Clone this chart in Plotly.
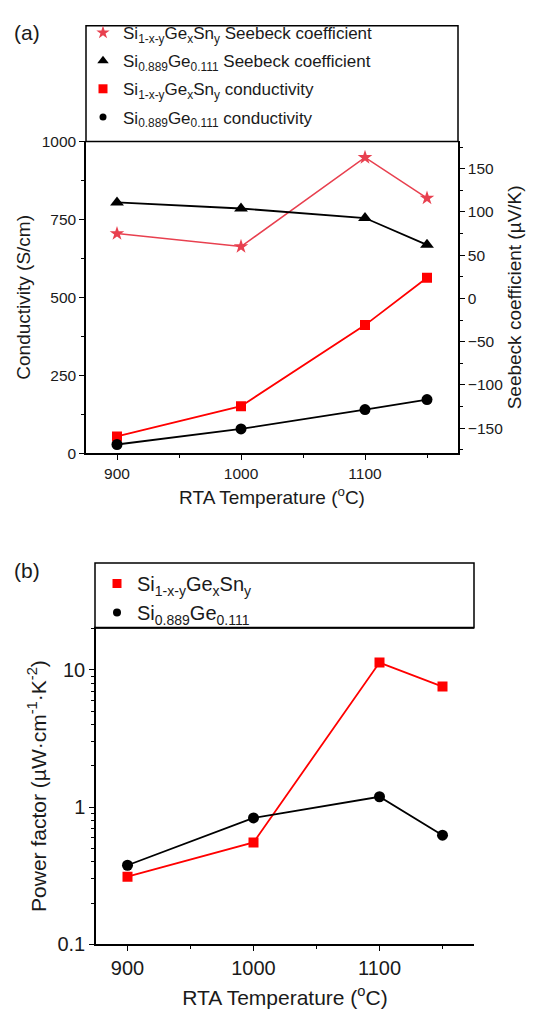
import plotly.graph_objects as go

# ---------------- data ----------------
temps = [900, 1000, 1100, 1150]
seebeck_sigesn = [75, 60, 163, 116]        # µV/K
seebeck_sige = [111, 104, 93, 62]          # µV/K
cond_sigesn = [54, 151, 411, 563]          # S/cm
cond_sige = [28, 78, 140, 172]             # S/cm
pf_sigesn = [0.311, 0.553, 11.3, 7.56]     # µW cm^-1 K^-2
pf_sige = [0.377, 0.834, 1.19, 0.624]

x_ticks = [900, 1000, 1100]
cond_ticks = [0, 250, 500, 750, 1000]
seebeck_ticks = [-150, -100, -50, 0, 50, 100, 150]
pf_ticks = [0.1, 1, 10]
pf_minor = [0.2, 0.3, 0.4, 0.5, 0.6, 0.7, 0.8, 0.9, 2, 3, 4, 5, 6, 7, 8, 9, 20]

name_sigesn = "Si<sub>1-x-y</sub>Ge<sub>x</sub>Sn<sub>y</sub>"
name_sige = "Si<sub>0.889</sub>Ge<sub>0.111</sub>"

RED = "#ff0000"
STAR = "#e8404f"
BLACK = "#000000"
TXT = "#1a1a1a"
FONT = "Liberation Sans, Arial, sans-serif"

# page body has an 8px margin: shrink the figure and shift coordinates
OFF = 8
W, H = 553 - OFF, 1023 - OFF

def px(v):
    return (v - OFF) / W

def py(v):
    return 1 - (v - OFF) / H

fig = go.Figure()

# ---- panel (a) ----
fig.add_trace(go.Scatter(x=temps, y=seebeck_sigesn, mode="lines+markers", xaxis="x", yaxis="y3",
                         line=dict(color=STAR, width=1.5),
                         marker=dict(symbol="star", size=11, color=STAR), showlegend=False))
fig.add_trace(go.Scatter(x=temps, y=seebeck_sige, mode="lines+markers", xaxis="x", yaxis="y3",
                         line=dict(color=BLACK, width=1.8),
                         marker=dict(symbol="triangle-up", size=12, color=BLACK), showlegend=False))
fig.add_trace(go.Scatter(x=temps, y=cond_sigesn, mode="lines+markers", xaxis="x", yaxis="y",
                         line=dict(color=RED, width=1.8),
                         marker=dict(symbol="square", size=10, color=RED), showlegend=False))
fig.add_trace(go.Scatter(x=temps, y=cond_sige, mode="lines+markers", xaxis="x", yaxis="y",
                         line=dict(color=BLACK, width=1.8),
                         marker=dict(symbol="circle", size=11, color=BLACK), showlegend=False))

# legend-only entries (marker only) for panel (a)
leg_a = [
    (name_sigesn + " Seebeck coefficient", "star", STAR, 10),
    (name_sige + " Seebeck coefficient", "triangle-up", BLACK, 10),
    (name_sigesn + " conductivity", "square", RED, 9),
    (name_sige + " conductivity", "circle", BLACK, 7),
]
for i, (nm, sym, col, sz) in enumerate(leg_a):
    fig.add_trace(go.Scatter(x=[None], y=[None], mode="markers", name=nm, xaxis="x", yaxis="y",
                             legendgroup=f"a{i}",
                             marker=dict(symbol=sym, color=col, size=sz), legend="legend"))

# ---- panel (b) ----
fig.add_trace(go.Scatter(x=temps, y=pf_sigesn, mode="lines+markers", xaxis="x2", yaxis="y2",
                         line=dict(color=RED, width=1.8),
                         marker=dict(symbol="square", size=10, color=RED), showlegend=False))
fig.add_trace(go.Scatter(x=temps, y=pf_sige, mode="lines+markers", xaxis="x2", yaxis="y2",
                         line=dict(color=BLACK, width=1.8),
                         marker=dict(symbol="circle", size=11, color=BLACK), showlegend=False))
for nm, sym, col, sz in [(name_sigesn, "square", RED, 9), (name_sige, "circle", BLACK, 8)]:
    fig.add_trace(go.Scatter(x=[None], y=[None], mode="markers", name=nm, xaxis="x2", yaxis="y2",
                             marker=dict(symbol=sym, color=col, size=sz), legend="legend2"))

def axis_style(tick_size, title_size):
    return dict(showline=True, linecolor="black", linewidth=1.5, ticks="outside",
                ticklen=5, tickwidth=1.2, tickcolor="black", showgrid=False, zeroline=False,
                tickfont=dict(family=FONT, size=tick_size, color=TXT),
                title_font=dict(family=FONT, size=title_size, color=TXT))

ax_a = axis_style(15.5, 19)
ax_b = axis_style(20, 21)

minor_lin = dict(ticks="outside", ticklen=3, tickwidth=1, tickcolor="black")

a_top, a_bot = 135, 453
b_top, b_bot = 631, 954

fig.update_layout(
    width=W, height=H, margin=dict(l=0, r=0, t=0, b=0),
    paper_bgcolor="white", plot_bgcolor="white",
    font=dict(family=FONT, color=TXT),
    xaxis=dict(domain=[px(86), px(458)], anchor="y", range=[875, 1175], tickvals=x_ticks,
               title=dict(text="RTA Temperature (<sup>o</sup>C)", standoff=10),
               minor=dict(dtick=50, tick0=900, **minor_lin), **ax_a),
    yaxis=dict(domain=[py(a_bot), py(a_top)], anchor="x", range=[0, 1000], tickvals=cond_ticks,
               title=dict(text="Conductivity (S/cm)", standoff=6),
               minor=dict(dtick=125, tick0=0, **minor_lin), **ax_a),
    yaxis3=dict(overlaying="y", side="right", anchor="x", range=[-179, 181.5], tickvals=seebeck_ticks,
                title=dict(text="Seebeck coefficient (µV/K)", standoff=6),
                minor=dict(dtick=25, tick0=0, **minor_lin), **ax_a),
    xaxis2=dict(domain=[px(96), px(474)], anchor="y2", range=[875, 1175], tickvals=x_ticks,
                title=dict(text="RTA Temperature (<sup>o</sup>C)", standoff=12),
                minor=dict(dtick=50, tick0=900, **minor_lin), **ax_b),
    yaxis2=dict(domain=[py(b_bot), py(b_top)], anchor="x2", type="log", range=[-1, 1.307],
                tickvals=pf_ticks, ticktext=["0.1", "1", "10"],
                title=dict(text="Power factor (µW·cm<sup>-1</sup>·K<sup>-2</sup>)", standoff=5),
                minor=dict(tickvals=pf_minor, **minor_lin),
                **ax_b),
    legend=dict(x=px(83), y=py(6), xanchor="left", yanchor="top", bgcolor="rgba(0,0,0,0)",
                font=dict(family=FONT, size=17, color=TXT), tracegroupgap=3, itemwidth=30),
    legend2=dict(x=px(97), y=py(566), xanchor="left", yanchor="top", bgcolor="rgba(0,0,0,0)",
                 font=dict(family=FONT, size=20, color=TXT), tracegroupgap=0, itemwidth=30),
)

# frame lines: legend boxes and top edges of plots
fig.add_shape(type="rect", xref="paper", yref="paper", x0=px(86), x1=px(458), y0=py(a_top), y1=py(17),
              line=dict(color="black", width=1.5))
fig.add_shape(type="rect", xref="paper", yref="paper", x0=px(95), x1=px(474), y0=py(b_top), y1=py(565),
              line=dict(color="black", width=1.5))
fig.add_shape(type="line", xref="paper", yref="paper", x0=px(94), x1=px(474), y0=py(b_top), y1=py(b_top),
              line=dict(color="black", width=2))

fig.add_annotation(text="(a)", x=px(12), y=py(24), xref="paper", yref="paper", showarrow=False,
                   xanchor="left", yanchor="middle", font=dict(family=FONT, size=21, color=TXT))
fig.add_annotation(text="(b)", x=px(12), y=py(573), xref="paper", yref="paper", showarrow=False,
                   xanchor="left", yanchor="middle", font=dict(family=FONT, size=21, color=TXT))

fig.write_html("out.html")
